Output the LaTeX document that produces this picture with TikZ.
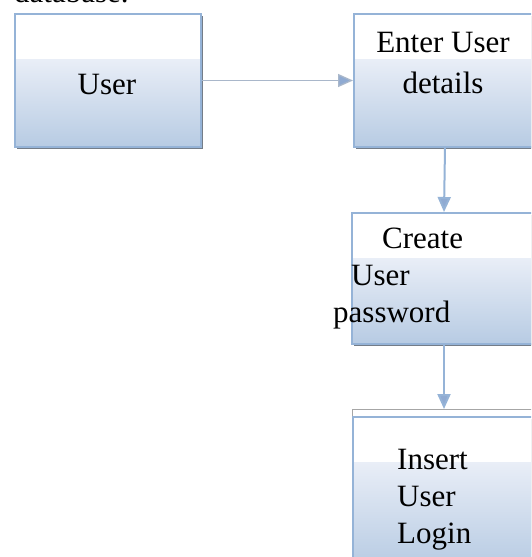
\documentclass[tikz,border=0pt]{standalone}
\usepackage{fontspec}
\setmainfont{Liberation Serif}
\usetikzlibrary{arrows.meta,shadows}
\definecolor{boxblue}{HTML}{95B3D7}
\definecolor{gtop}{HTML}{E9EEF7}
\definecolor{gbot}{HTML}{B7CBE3}
\definecolor{linecol}{HTML}{95B3D7}
\definecolor{hline}{HTML}{A9B7CA}
\definecolor{tipcol}{HTML}{8FAAD2}
\definecolor{shadowcol}{HTML}{3A4656}
\begin{document}
\begin{tikzpicture}[x=1pt,y=-1pt,
  box/.style={draw=boxblue, line width=2pt, inner sep=0pt, anchor=north west,
    drop shadow={shadow xshift=2pt, shadow yshift=-2pt, fill=shadowcol, opacity=0.7},
    path picture={
      \fill[white] (path picture bounding box.north west) rectangle (path picture bounding box.south east);
      \shade[top color=gtop, bottom color=gbot] ([yshift=-45pt]path picture bounding box.north west) rectangle (path picture bounding box.south east);
    }},
  txt/.style={inner sep=0pt, font=\fontsize{31}{37}\selectfont},
  conn/.style={draw=linecol, line width=2pt, -{Triangle[length=15pt,width=13pt,fill=tipcol]}},
  hconn/.style={draw=hline, line width=1.3pt, -{Triangle[length=15pt,width=13pt,fill=tipcol]}}
]
\useasboundingbox (0,0) rectangle (531,557);
\clip (0,0) rectangle (531,557);
\fill[white] (0,0) rectangle (531,557);

\node[txt, anchor=base west] (db) at (14,2) {database.};

\node[box, minimum width=186pt, minimum height=133pt] (user) at (14,13) {};
\node[box, minimum width=182pt, minimum height=133pt] (enter) at (353,13) {};
\node[box, minimum width=184pt, minimum height=131pt] (create) at (351,212) {};
\node[box, minimum width=184pt, minimum height=150pt] (insert) at (352,416) {};
\coordinate (instop) at (444,409);
\draw[draw=gray!70, line width=0.8pt] (352,416) -- (352,409) -- (540,409);

\draw[hconn] (user.east) -- (enter.west);
\draw[conn] (enter.south) -- (create.north);
\draw[conn] (create.south) -- (instop);

\node[txt, anchor=base] (tuser) at (107,94) {User};
\node[txt, font=\fontsize{31}{41}\selectfont, align=center, anchor=base] (tenter) at (443,93) {Enter User\\details};
\node[txt, align=left, anchor=base west] (tcreate) at (333,322) {\hspace*{49pt}Create\\\hspace*{18pt}User\\password};
\node[txt, align=left, anchor=base west] (tinsert) at (397,543) {Insert\\User\\Login};
\end{tikzpicture}
\end{document}
